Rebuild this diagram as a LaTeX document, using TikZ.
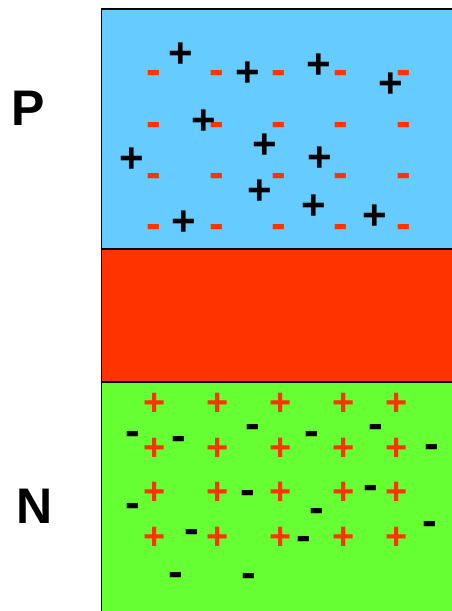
\documentclass[tikz,border=0pt]{standalone}
\usepackage{fontspec}
\setmainfont{Liberation Sans}
\definecolor{PSide}{HTML}{66CCFF}
\definecolor{Junction}{HTML}{FF3300}
\definecolor{NSide}{HTML}{66FF33}

\begin{document}
\begin{tikzpicture}[
x=1pt, y=-1pt,
region/.style={draw=black, line width=1.5pt, anchor=north west, inner sep=0pt, minimum width=360pt},
side/.style={font=\fontsize{50}{50}\selectfont\bfseries, inner sep=0pt},
hole/.style={font=\fontsize{42}{42}\selectfont\bfseries, inner sep=0pt, text=black, yshift=-3pt},
acceptor/.style={font=\fontsize{44}{44}\selectfont\bfseries, inner sep=0pt, text=Junction, yshift=-5pt},
donor/.style={font=\fontsize{38}{38}\selectfont\bfseries, inner sep=0pt, text=Junction, yshift=-3pt},
electron/.style={font=\fontsize{44}{44}\selectfont\bfseries, inner sep=0pt, text=black, yshift=-5pt}
]
\useasboundingbox (0,0) rectangle (452,611);
\clip (0,0) rectangle (452,611);

\node[region, fill=PSide, minimum height=240pt] (pregion) at (100.5,8) {};
\node[region, fill=Junction, minimum height=133pt] (depletion) at (100.5,248) {};
\node[region, fill=NSide, minimum height=240pt] (nregion) at (100.5,381) {};

\node[side] (plabel) at (28,108) {P};
\node[side] (nlabel) at (35,506) {N};

\foreach \y [count=\r] in {72,124,175,226}
  \foreach \x [count=\c] in {154,217,279,341,404}
    \node[acceptor] (acc-\r-\c) at (\x,\y) {-};

\foreach \x/\y [count=\i] in {181/52, 248/71, 319/63, 391/82, 204/119, 132/157,
    265/143, 320/156, 260/189, 314/204, 375/214, 184/220}
  \node[hole] (hole-\i) at (\x,\y) {+};

\foreach \y [count=\r] in {401,446,490,535}
  \foreach \x [count=\c] in {155,218,281,344,397}
    \node[donor] (don-\r-\c) at (\x,\y) {+};

\foreach \x/\y [count=\i] in {133/433, 179/438, 253/426, 312/433, 376/426, 432/446,
    133/505, 248/492, 317/510, 371/487, 192/531, 304/538, 430/523, 176/574, 249/575}
  \node[electron] (elec-\i) at (\x,\y) {-};
\end{tikzpicture}
\end{document}
